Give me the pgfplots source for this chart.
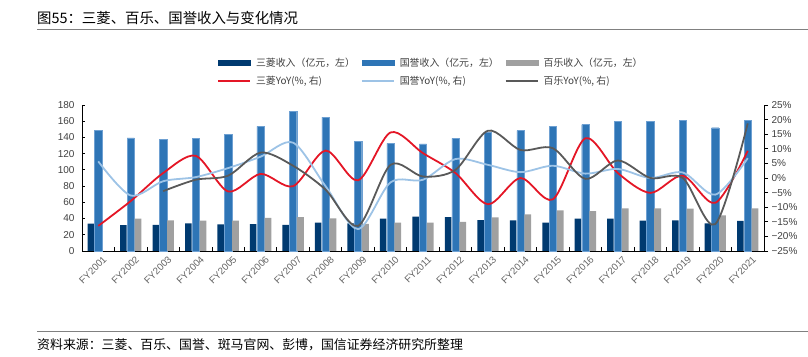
\documentclass[border=0pt]{standalone}
\usepackage{pgfplots}
\pgfplotsset{compat=1.18}
\usepackage{fontspec}
\setmainfont{Liberation Sans}
\newfontfamily\cjk{Noto Sans CJK SC}

\definecolor{cM}{RGB}{0,58,112}
\definecolor{cK}{RGB}{46,117,182}
\definecolor{cKe}{RGB}{110,160,210}
\definecolor{cP}{RGB}{160,160,160}
\definecolor{lM}{RGB}{228,22,38}
\definecolor{lK}{RGB}{157,195,230}
\definecolor{lP}{RGB}{89,89,89}
\definecolor{txt}{RGB}{64,64,64}
\definecolor{xtxt}{RGB}{100,100,100}
\definecolor{rulec}{RGB}{128,128,128}

\pgfplotstableread{
i M K P
0 33.7 149.0 nan
1 31.8 139.5 39.9
2 32.2 137.7 37.8
3 34.2 138.5 37.4
4 32.9 143.9 37.4
5 33.2 153.7 40.7
6 32.2 171.8 41.9
7 35.0 165.2 40.3
8 34.2 135.0 33.3
9 39.9 132.8 34.9
10 42.3 132.0 34.9
11 41.9 139.0 35.8
12 38.2 145.9 41.5
13 37.8 148.4 45.2
14 34.9 154.0 50.2
15 39.9 155.8 49.3
16 39.9 159.9 52.6
17 37.4 159.5 52.6
18 37.8 161.5 52.2
19 34.1 152.0 44.0
20 37.0 161.5 52.6
}\bars

\begin{document}
\begin{tikzpicture}
\path[use as bounding box] (0pt,0pt) rectangle (808pt,356pt);
\node[anchor=west, font=\cjk\fontsize{14.4}{16}\selectfont, inner sep=0pt] at (37pt,338pt) {图55：三菱、百乐、国誉收入与变化情况};
\draw[rulec, line width=1.2pt] (37pt,326.5pt) -- (808pt,326.5pt);
\draw[rulec, line width=1.2pt] (37pt,24.5pt) -- (808pt,24.5pt);
\node[anchor=west, font=\cjk\fontsize{12.9}{14}\selectfont, inner sep=0pt] at (37pt,11pt) {资料来源：三菱、百乐、国誉、斑马官网、彭博，国信证券经济研究所整理};

\begin{axis}[
  at={(82pt,105pt)}, anchor=south west, scale only axis,
  width=682pt, height=146pt,
  xmin=-0.5, xmax=20.5, ymin=0, ymax=180,
  axis x line*=bottom, axis y line*=left,
  axis line style={black, line width=0.8pt},
  ytick={0,20,...,180},
  ytick align=inside,
  major tick length=3pt,
  xtick={0,...,20},
  xticklabels={FY2001,FY2002,FY2003,FY2004,FY2005,FY2006,FY2007,FY2008,FY2009,FY2010,FY2011,FY2012,FY2013,FY2014,FY2015,FY2016,FY2017,FY2018,FY2019,FY2020,FY2021},
  major x tick style={draw=none},
  minor xtick={0.5,1.5,...,19.5},
  minor x tick style={black, line width=0.8pt},
  minor tick length=4pt,
  xtick align=inside,
  tick style={black, line width=0.8pt},
  /pgf/number format/assume math mode=true,
  yticklabel style={font=\fontsize{10}{12}\selectfont, text=txt, xshift=-4pt},
  xticklabel style={rotate=45, anchor=north east, font=\fontsize{9.7}{11}\selectfont, text=xtxt, inner sep=1pt, yshift=-5pt, xshift=1pt},
  clip=false,
]
\addplot[ybar, bar width=6.5pt, bar shift=-7.4pt, fill=cM, draw=none] table[x=i, y=M] {\bars};
\addplot[ybar, bar width=7.3pt, bar shift=0pt, fill=cK, draw=cKe, line width=0.4pt] table[x=i, y=K] {\bars};
\addplot[ybar, bar width=6.8pt, bar shift=7.3pt, fill=cP, draw=none] table[x=i, y=P] {\bars};
\end{axis}

\begin{axis}[
  at={(82pt,105pt)}, anchor=south west, scale only axis,
  width=682pt, height=146pt,
  xmin=-0.5, xmax=20.5, ymin=-25, ymax=25,
  axis x line=none, axis y line*=right,
  axis line style={black, line width=0.8pt},
  ytick={-25,-20,...,25},
  yticklabels={−25\%,−20\%,−15\%,−10\%,−5\%,0\%,5\%,10\%,15\%,20\%,25\%},
  ytick align=outside,
  major tick length=4pt,
  tick style={black, line width=0.8pt},
  yticklabel style={font=\fontsize{10}{12}\selectfont, text=txt, xshift=0pt},
  legend columns=3,
  legend cell align=left,
  legend image code/.code={\draw[#1] (0pt,0pt) -- (32pt,0pt);},
  legend style={at={(0.198,1.322)}, anchor=north west, draw=none, fill=none, inner sep=0pt,
    row sep=8pt, font=\cjk\fontsize{9.9}{11}\selectfont, text=txt,
    nodes={inner sep=0pt},
    /tikz/every odd column/.style={column sep=5pt},
    /tikz/every even column/.style={column sep=5pt}},
  clip=false,
]
\addlegendimage{legend image code/.code={\fill[cM] (0pt,-2.5pt) rectangle (32pt,2.5pt);}}
\addlegendentry{\makebox[100pt][l]{三菱收入（亿元，左）}}
\addlegendimage{legend image code/.code={\fill[cK] (0pt,-2.5pt) rectangle (32pt,2.5pt);}}
\addlegendentry{\makebox[100pt][l]{国誉收入（亿元，左）}}
\addlegendimage{legend image code/.code={\fill[cP] (0pt,-2.5pt) rectangle (32pt,2.5pt);}}
\addlegendentry{\makebox[100pt][l]{百乐收入（亿元，左）}}

\addplot[lM, line width=1.8pt, smooth] coordinates {
(0,-16.4) (1,-7.9) (2,1.7) (3,7.6) (4,-4.6) (5,1.4) (6,-2.8) (7,9.4) (8,-0.8) (9,15.6)
(10,8.5) (11,1.7) (12,-9.0) (13,0.0) (14,-7.3) (15,13.6) (16,1.7) (17,-5.1) (18,0.8) (19,-8.5) (20,9.3)};
\addlegendentry{\makebox[100pt][l]{三菱YoY(\%, 右)}}
\addplot[lK, line width=1.8pt, smooth] coordinates {
(0,5.7) (1,-6.0) (2,-1.1) (3,0.3) (4,3.4) (5,7.3) (6,12.1) (7,-2.8) (8,-17.5) (9,-1.5)
(10,-0.6) (11,6.5) (12,4.5) (13,2.0) (14,4.2) (15,1.5) (16,3.1) (17,0.0) (18,1.9) (19,-5.7) (20,6.8)};
\addlegendentry{\makebox[100pt][l]{国誉YoY(\%, 右)}}
\addplot[lP, line width=1.8pt, smooth] coordinates {
(2,-4.5) (3,-0.6) (4,0.8) (5,8.7) (6,4.2) (7,-4.0) (8,-16.4) (9,4.5)
(10,0.5) (11,2.8) (12,16.2) (13,9.6) (14,10.2) (15,-0.3) (16,6.0) (17,0.0) (18,0.0) (19,-15.8) (20,18.7)};
\addlegendentry{\makebox[100pt][l]{百乐YoY(\%, 右)}}
\end{axis}
\end{tikzpicture}
\end{document}
